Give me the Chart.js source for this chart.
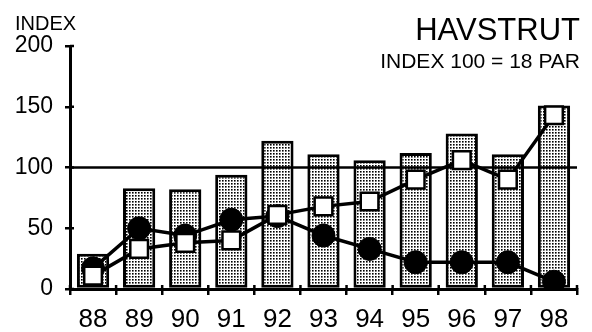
<!DOCTYPE html>
<html>
<head>
<meta charset="utf-8">
<script src="https://cdn.jsdelivr.net/npm/chart.js@4"></script>
<style>
  html, body { margin: 0; padding: 0; background: #fff; }
</style>
</head>
<body>
<canvas id="myChart" width="592" height="332"></canvas>
<script>
var years = ['88', '89', '90', '91', '92', '93', '94', '95', '96', '97', '98'];
var barIndex = [29, 83, 82, 94, 122, 111, 106, 112, 128, 111, 151];
var squareIndex = [11, 33, 38, 40, 61, 68, 72, 90, 106, 90, 143];
var circleIndex = [17, 50, 44, 57, 60, 44, 33, 22, 22, 22, 6];
var yTicks = [0, 50, 100, 150, 200];
var refLevel = 100;

var FONT = '"Liberation Sans", Arial, sans-serif';

// dotted fill like the printed stipple
function dotPattern() {
  var c = document.createElement('canvas');
  c.width = 3; c.height = 3;
  var p = c.getContext('2d');
  p.fillStyle = '#fff';
  p.fillRect(0, 0, 3, 3);
  p.fillStyle = '#000';
  p.fillRect(0, 0, 1.6, 1.6);
  return p.createPattern(c, 'repeat');
}

var ctx = document.getElementById('myChart').getContext('2d');

var refLine = {
  id: 'refLine',
  afterDatasetDraw: function(chart, args) {
    if (args.index !== 0) return;
    var y = chart.scales.y.getPixelForValue(refLevel);
    var a = chart.chartArea;
    var c = chart.ctx;
    c.save();
    c.strokeStyle = '#000';
    c.lineWidth = 2.5;
    c.beginPath();
    c.moveTo(a.left, y);
    c.lineTo(a.right, y);
    c.stroke();
    c.restore();
  }
};

// tick marks that cross the axis lines a little on the inside too
var crossTicks = {
  id: 'crossTicks',
  afterDraw: function(chart) {
    var c = chart.ctx;
    var x = chart.scales.x, y = chart.scales.y;
    var step = x.getPixelForValue(1) - x.getPixelForValue(0);
    var base = y.getPixelForValue(0);
    c.save();
    c.strokeStyle = '#000';
    c.lineWidth = 2.5;
    c.beginPath();
    for (var i = 0; i <= years.length; i++) {
      var px = x.getPixelForValue(i) - step / 2;
      c.moveTo(px, base);
      c.lineTo(px, base - 4);
    }
    yTicks.forEach(function(v) {
      var py = y.getPixelForValue(v);
      c.moveTo(chart.chartArea.left, py);
      c.lineTo(chart.chartArea.left + 4, py);
    });
    c.stroke();
    c.restore();
  }
};

var texts = {
  id: 'texts',
  afterDraw: function(chart) {
    var c = chart.ctx;
    c.save();
    c.fillStyle = '#000';
    c.textBaseline = 'alphabetic';
    c.textAlign = 'left';
    c.font = '20px ' + FONT;
    c.fillText('INDEX', 15, 30);
    c.textAlign = 'right';
    c.font = '31px ' + FONT;
    c.fillText('HAVSTRUT', 580, 40);
    c.font = '21px ' + FONT;
    c.fillText('INDEX 100 = 18 PAR', 580, 68);
    c.restore();
  }
};

var myChart = new Chart(ctx, {
  type: 'bar',
  data: {
    labels: years,
    datasets: [{
      type: 'bar',
      data: barIndex,
      backgroundColor: dotPattern(),
      borderColor: '#000',
      borderWidth: 3,
      borderSkipped: false,
      barPercentage: 0.7,
      categoryPercentage: 1,
      order: 3
    }, {
      type: 'line',
      data: circleIndex,
      borderColor: '#000',
      borderWidth: 3.5,
      pointRadius: 11.5,
      pointBackgroundColor: '#000',
      pointBorderColor: '#000',
      pointBorderWidth: 1,
      tension: 0,
      order: 2
    }, {
      type: 'line',
      data: squareIndex,
      borderColor: '#000',
      borderWidth: 3.5,
      pointStyle: 'rect',
      pointRadius: 12.5,
      pointBackgroundColor: '#fff',
      pointBorderColor: '#000',
      pointBorderWidth: 2.5,
      tension: 0,
      order: 1
    }]
  },
  options: {
    responsive: false,
    animation: false,
    layout: { padding: { top: 46, right: 13, left: 0, bottom: 0 } },
    plugins: {
      legend: { display: false },
      tooltip: { enabled: false }
    },
    scales: {
      x: {
        offset: true,
        border: { color: '#000', width: 3 },
        grid: { offset: true, drawOnChartArea: false, color: '#000', lineWidth: 2.5, tickLength: 6 },
        ticks: { color: '#000', font: { family: FONT, size: 26 }, padding: 9, maxRotation: 0 },
        afterFit: function(s) { s.height = 43; }
      },
      y: {
        min: 0,
        max: 200,
        border: { color: '#000', width: 3 },
        grid: { drawOnChartArea: false, color: '#000', lineWidth: 2.5, tickLength: 5 },
        ticks: { color: '#000', font: { family: FONT, size: 23 }, padding: 12 },
        afterBuildTicks: function(s) { s.ticks = yTicks.map(function(v) { return { value: v }; }); },
        afterFit: function(s) { s.width = 70; }
      }
    }
  },
  plugins: [refLine, crossTicks, texts]
});
</script>
</body>
</html>
